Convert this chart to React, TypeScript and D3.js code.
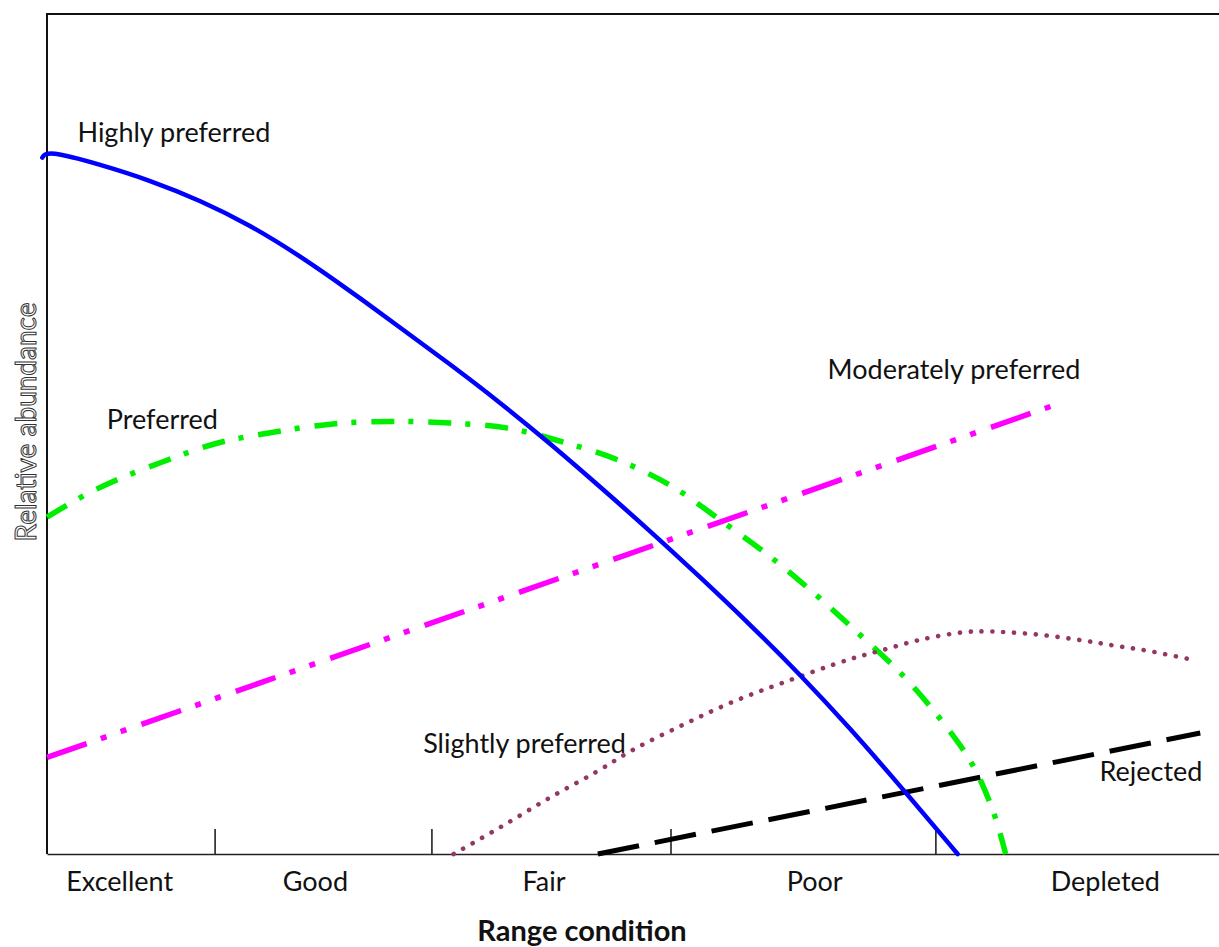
import React, { useEffect, useRef } from 'react';
import * as d3 from 'd3';

// x: range condition (0 = excellent end, 100 = depleted end); y: relative abundance (0-100)
type Pt = [number, number];

const highlyPreferred: Pt[] = [
  [-0.4, 82.9], [0, 83.8], [4.5, 82.1], [8.8, 80.2], [13.1, 77.8], [17.3, 74.9],
  [21.6, 71.2], [25.9, 67.0], [30.1, 62.7], [34.4, 58.3], [38.7, 53.7], [42.9, 48.9],
  [47.2, 43.7], [51.5, 38.4], [55.7, 33.0], [60.0, 27.3], [64.3, 21.3], [68.5, 15.0],
  [72.8, 8.1], [77.7, 0],
];

const preferred: Pt[] = [
  [0, 40.1], [2.8, 42.4], [5.4, 44.2], [9.9, 46.7], [14.5, 48.9], [19.3, 50.2],
  [24.4, 51.2], [29.5, 51.5], [34.4, 51.3], [39.3, 50.7], [44.4, 48.9], [49.1, 46.7],
  [53.4, 43.7], [57.7, 39.5], [61.7, 35.4], [65.4, 31.1], [69.2, 26.3], [73.0, 21.3],
  [76.2, 16.1], [78.9, 10.8], [80.7, 5.2], [81.8, 0],
];

const moderatelyPreferred: Pt[] = [[0, 11.5], [86.7, 53.8]];

const slightlyPreferred: Pt[] = [
  [34.7, 0], [38.7, 3.2], [42.9, 6.7], [46.9, 9.8], [50.0, 12.4], [54.3, 15.4],
  [58.5, 18.1], [63.0, 20.5], [68.3, 23.1], [71.1, 24.2], [74.5, 25.5], [78.2, 26.4],
  [80.0, 26.5], [81.9, 26.4], [84.7, 26.1], [88.5, 25.4], [91.1, 24.8], [93.9, 24.2],
  [97.8, 23.1],
];

const rejected: Pt[] = [[47.0, 0], [98.4, 14.4]];

const tickPositions = [14.3, 32.8, 53.2, 75.8];
const conditionLabels = ['Excellent', 'Good', 'Fair', 'Poor', 'Depleted'];
const conditionCenters = [6.2, 22.9, 42.4, 65.5, 90.3];

const FONT = 'Lato, "Liberation Sans", sans-serif';

export default function App() {
  const svgRef = useRef<SVGSVGElement>(null);

  useEffect(() => {
    if (!svgRef.current) return;
    const svg = d3.select(svgRef.current);
    svg.selectAll('*').remove();

    const width = 1219;
    const height = 947;
    const left = 47, right = 1219, top = 14, bottom = 854;

    svg.attr('width', width).attr('height', height);

    const x = d3.scaleLinear().domain([0, 100]).range([left, right]);
    const y = d3.scaleLinear().domain([0, 100]).range([bottom, top]);

    // frame
    svg.append('line')
      .attr('x1', left).attr('x2', right).attr('y1', top).attr('y2', top)
      .attr('stroke', '#111').attr('stroke-width', 2.2);
    svg.append('line')
      .attr('x1', left).attr('x2', left).attr('y1', top - 1).attr('y2', bottom)
      .attr('stroke', '#111').attr('stroke-width', 2);

    const xAxis = d3.axisBottom(x)
      .tickValues(tickPositions)
      .tickSizeInner(-25)
      .tickSizeOuter(0)
      .tickFormat(() => '');
    const gx = svg.append('g').attr('transform', `translate(0,${bottom})`).call(xAxis);
    gx.select('.domain').attr('stroke', '#222').attr('stroke-width', 1.6);
    gx.selectAll('.tick line').attr('stroke', '#222').attr('stroke-width', 1.6);

    // condition labels
    svg.append('g')
      .selectAll('text')
      .data(conditionLabels)
      .join('text')
      .attr('x', (_, i) => x(conditionCenters[i]))
      .attr('y', 891)
      .attr('text-anchor', 'middle')
      .style('font-family', FONT)
      .style('font-size', '27px')
      .style('fill', '#111')
      .text(d => d);

    svg.append('text')
      .attr('x', 582)
      .attr('y', 941)
      .attr('text-anchor', 'middle')
      .style('font-family', FONT)
      .style('font-size', '29px')
      .style('font-weight', 'bold')
      .style('fill', '#111')
      .text('Range condition');

    svg.append('text')
      .attr('transform', 'translate(36,422) rotate(-90)')
      .attr('text-anchor', 'middle')
      .style('font-family', FONT)
      .style('font-size', '28px')
      .style('fill', '#fff')
      .style('stroke', '#333')
      .style('stroke-width', 1)
      .text('Relative abundance');

    const smooth = d3.line<Pt>()
      .x(d => x(d[0]))
      .y(d => y(d[1]))
      .curve(d3.curveBasis);
    const through = d3.line<Pt>()
      .x(d => x(d[0]))
      .y(d => y(d[1]))
      .curve(d3.curveCatmullRom.alpha(0.5));

    const series = [
      { data: rejected, gen: through, color: '#000', w: 5, dash: '42 16', cap: 'butt' },
      { data: moderatelyPreferred, gen: through, color: '#ff00ff', w: 5.5, dash: '42 15 6 15 6 16', cap: 'butt' },
      { data: preferred, gen: through, color: '#00ee00', w: 5.5, dash: '23 14 5 15', cap: 'butt' },
      { data: slightlyPreferred, gen: through, color: '#953765', w: 4.6, dash: '0.1 10.8', cap: 'round' },
      { data: highlyPreferred, gen: smooth, color: '#0000ff', w: 4.5, dash: null, cap: 'round' },
    ];

    series.forEach(s => {
      svg.append('path')
        .datum(s.data)
        .attr('d', s.gen)
        .attr('fill', 'none')
        .attr('stroke', s.color)
        .attr('stroke-width', s.w)
        .attr('stroke-linecap', s.cap)
        .attr('stroke-dasharray', s.dash);
    });

    // curve labels
    const curveLabels = [
      { text: 'Highly preferred', x: 2.6, y: 84.8 },
      { text: 'Preferred', x: 5.1, y: 50.6 },
      { text: 'Moderately preferred', x: 66.6, y: 56.5 },
      { text: 'Slightly preferred', x: 32.1, y: 12.0 },
      { text: 'Rejected', x: 89.8, y: 8.7 },
    ];
    svg.append('g')
      .selectAll('text')
      .data(curveLabels)
      .join('text')
      .attr('x', d => x(d.x))
      .attr('y', d => y(d.y))
      .style('font-family', FONT)
      .style('font-size', '27px')
      .style('fill', '#111')
      .text(d => d.text);
  }, []);

  return <svg ref={svgRef} style={{ position: 'absolute', left: 0, top: 0 }} />;
}
